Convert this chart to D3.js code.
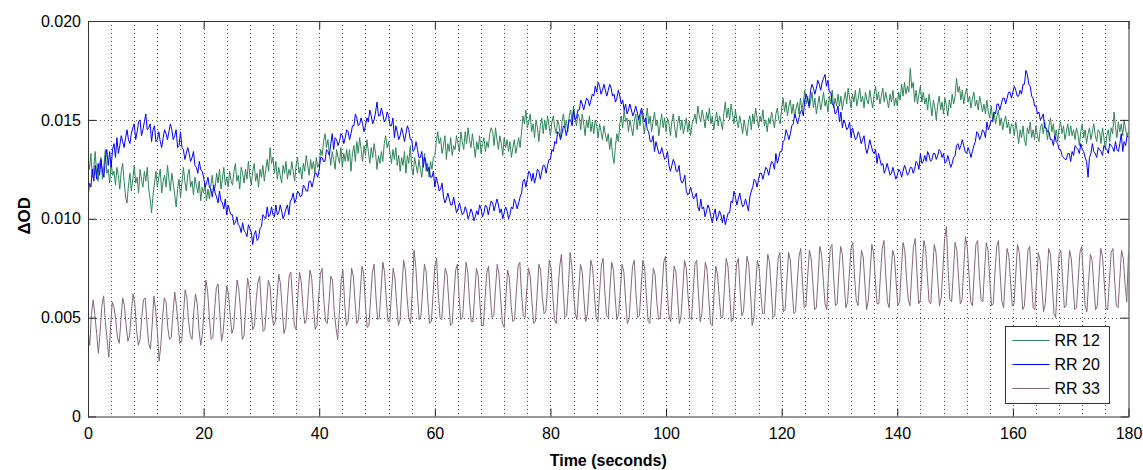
<!DOCTYPE html>
<html>
<head>
<meta charset="utf-8">
<script src="https://cdn.jsdelivr.net/npm/d3@7"></script>
<style>
  body { margin: 0; background: #fff; }
  svg text { font-family: "Liberation Sans", Arial, Helvetica, sans-serif; fill: #000; }
</style>
</head>
<body>
<svg id="chart" width="1143" height="470"></svg>
<script>
// Values, in units of 0.001 ΔOD, one sample every `step` seconds
const seriesNames = ["RR 12", "RR 20", "RR 33"];

const stepRR12 = 0.25;
const rr12 = [
  13.0,12.5,13.3,12.1,12.6,13.4,12.2,11.9,12.8,13.1,12.0,12.7,13.5,12.3,12.5,11.8,12.9,12.2,12.4,11.7,
  12.6,12.2,11.5,12.4,12.8,11.9,11.1,10.8,11.7,12.3,11.4,12.0,12.7,11.8,12.1,11.3,12.5,12.0,11.6,12.4,
  11.9,12.6,11.5,11.0,10.3,11.2,11.8,12.4,11.6,12.1,12.5,11.3,11.9,12.2,11.6,12.7,12.0,11.4,12.3,11.8,
  11.2,10.6,11.5,12.0,11.1,11.8,12.6,11.9,11.4,12.2,12.5,11.6,11.9,11.2,12.1,11.7,11.3,11.9,10.9,11.6,
  11.3,11.8,10.9,11.5,11.0,11.7,12.2,11.4,11.6,12.3,11.8,12.5,11.5,12.0,12.6,11.7,12.1,11.6,12.4,11.9,
  11.7,12.4,12.8,11.9,12.2,11.5,12.6,12.3,11.8,12.5,12.0,12.9,12.2,11.7,12.4,12.8,11.9,12.3,11.6,12.5,
  12.1,12.7,11.9,12.5,13.0,12.4,13.6,12.8,13.1,12.3,12.9,12.0,12.6,12.2,11.8,12.7,12.3,12.9,12.0,12.5,
  12.2,12.9,12.4,11.9,12.7,13.1,12.3,12.6,12.0,12.8,12.4,13.2,12.7,12.2,13.0,12.5,12.9,12.3,13.1,12.6,
  12.8,13.5,13.2,13.9,14.3,13.6,14.0,13.3,12.7,13.4,13.0,12.5,13.5,13.1,12.8,13.6,12.6,13.3,12.9,13.5,
  12.9,13.5,12.4,13.3,13.7,12.9,13.9,13.3,14.1,13.5,12.9,13.7,13.2,14.0,13.4,12.8,13.6,13.1,13.8,13.3,
  12.5,13.2,12.8,13.4,12.9,13.8,14.2,13.6,13.9,13.3,12.8,13.5,13.0,13.6,12.7,13.2,12.4,13.1,12.7,13.4,
  12.3,13.2,12.8,13.7,12.6,12.2,13.1,12.7,12.3,13.0,12.5,12.1,12.9,13.3,12.4,12.8,12.1,12.9,12.5,13.1,
  13.2,13.9,14.4,13.8,14.1,13.3,13.7,14.2,13.0,13.8,13.4,14.1,13.2,13.7,13.5,14.2,13.8,13.4,14.4,13.9,
  13.5,14.4,13.8,14.6,14.0,13.6,14.3,13.7,13.1,13.9,13.5,14.2,13.3,13.8,14.1,13.4,13.9,13.6,14.3,14.6,
  14.4,13.7,14.6,14.0,13.5,14.2,13.8,13.2,14.1,13.6,14.0,13.4,13.9,13.1,13.6,14.0,13.3,13.7,14.1,13.6,
  14.4,15.2,14.8,15.5,14.6,14.9,15.3,14.4,14.8,14.1,15.0,14.6,13.9,14.7,15.1,14.3,15.0,14.5,15.2,14.7,
  14.2,14.9,15.2,14.6,14.3,15.0,14.7,14.1,14.9,15.3,14.6,15.0,14.4,15.2,15.5,14.9,15.7,15.1,14.7,15.3,
  15.1,14.5,15.3,14.8,14.2,15.0,14.6,15.2,14.4,14.9,14.3,15.0,14.7,14.1,14.8,14.4,14.0,14.7,14.3,13.9,
  14.3,13.5,14.1,13.2,12.8,13.7,14.3,13.9,14.8,15.2,14.6,15.5,14.9,15.1,14.4,15.0,14.6,14.2,14.9,15.3,
  14.5,15.2,14.7,15.5,14.9,14.3,15.0,15.6,14.8,15.2,14.4,14.9,15.4,14.7,15.0,14.2,14.8,15.3,14.6,15.1,
  14.4,15.1,14.8,14.2,14.9,15.3,14.6,14.1,14.8,15.2,14.5,15.0,14.3,14.7,15.1,14.4,14.9,14.2,14.8,15.0,
  15.3,14.8,15.7,15.2,14.9,15.5,15.1,14.6,15.4,15.0,15.6,14.8,15.2,14.5,15.0,15.4,14.7,15.2,14.9,14.5,
  15.3,15.9,15.1,15.6,15.0,15.8,15.3,14.8,15.5,15.0,14.6,15.2,14.8,14.3,15.0,14.6,14.2,14.9,15.2,14.5,
  15.3,14.8,15.6,15.1,14.6,15.2,14.9,15.5,14.7,15.0,14.4,15.1,14.8,15.4,15.0,14.6,15.3,15.6,15.0,14.8,
  15.6,16.1,15.4,15.9,15.2,15.7,16.0,15.3,15.8,15.1,15.6,15.9,15.3,16.1,15.5,15.9,16.5,15.8,16.2,15.6,
  15.9,16.4,15.6,16.1,15.3,15.8,16.2,15.5,15.9,16.4,15.7,16.0,15.4,16.2,15.8,16.5,15.6,16.1,15.7,16.3,
  15.7,16.2,15.5,16.0,16.4,15.8,16.6,16.1,15.6,16.3,15.9,16.5,15.7,16.1,16.6,15.9,16.2,15.6,16.4,16.0,
  15.8,16.5,16.0,15.6,16.3,16.7,16.0,16.4,15.8,16.2,16.6,15.9,16.4,16.0,15.6,16.3,15.9,16.5,15.7,16.1,
  15.7,16.4,16.0,16.8,16.2,16.9,16.3,16.7,16.4,17.6,16.6,16.9,15.9,16.5,15.8,16.3,16.7,15.9,16.4,15.8,
  16.1,15.5,16.3,15.8,15.2,16.0,15.6,15.0,15.8,16.2,15.5,15.9,15.3,16.1,15.7,15.2,16.0,15.6,16.3,15.8,
  16.2,17.1,16.4,16.7,16.0,16.5,15.8,16.3,16.6,15.9,16.2,15.6,16.1,16.4,15.7,16.0,15.5,16.2,15.8,15.4,
  15.8,15.3,16.0,15.4,15.1,15.7,15.0,15.4,14.8,15.2,15.5,14.7,15.1,14.5,14.9,15.2,14.6,14.9,14.3,14.8,
  14.7,14.2,14.9,14.4,13.8,14.5,14.1,14.7,14.0,13.7,14.6,14.3,14.9,14.1,14.5,14.0,14.7,14.2,13.9,14.6,
  14.8,14.3,14.9,14.5,14.0,14.7,15.1,14.4,14.8,14.1,14.5,13.9,14.6,14.9,14.3,14.7,14.0,14.4,14.8,14.2,
  14.7,14.2,14.5,14.0,14.6,14.3,13.7,14.4,14.8,14.1,14.5,13.8,14.3,14.6,14.0,14.4,14.8,14.2,13.9,14.5,
  14.4,13.8,14.6,14.1,13.5,14.2,14.5,13.9,14.6,14.3,15.4,14.6,14.1,14.9,14.4,14.8,14.2,15.0,14.5,14.2,
  14.4
];

const stepRR20 = 0.25;
const rr20 = [
  11.0,11.8,11.6,12.5,11.9,12.7,12.0,12.8,12.2,13.0,12.4,12.1,13.0,13.5,12.7,13.4,12.6,13.5,13.8,13.1,
  14.1,13.3,13.7,14.2,13.9,13.6,14.1,14.5,14.0,13.8,14.3,14.6,14.8,14.0,14.4,14.9,15.0,14.2,14.5,14.9,
  15.3,14.5,14.6,14.8,13.9,14.5,14.7,13.9,14.0,14.4,13.9,13.6,14.1,14.5,14.3,14.0,14.4,14.8,14.5,14.0,
  14.2,14.5,13.6,13.7,14.4,13.6,13.5,13.0,13.3,13.6,13.3,12.9,13.1,13.4,12.7,12.6,12.3,12.9,12.5,12.4,
  12.1,11.6,11.8,12.1,11.6,11.5,11.1,11.7,11.3,11.1,10.8,11.4,10.9,10.8,10.5,11.0,10.2,10.7,10.4,10.2,
  10.2,9.7,9.8,10.1,9.7,9.6,9.3,9.8,9.4,9.3,9.1,9.7,9.5,9.3,8.7,9.2,9.4,8.9,9.0,9.5,
  9.6,10.2,10.1,10.0,10.6,10.1,10.2,10.6,10.2,10.1,10.7,10.2,10.3,10.7,10.4,10.0,10.2,10.5,10.7,10.2,
  10.9,11.0,11.3,10.8,11.0,11.4,11.3,11.1,11.2,11.7,11.6,11.4,11.4,11.9,11.9,11.6,11.9,12.3,12.3,12.1,
  12.5,13.1,13.1,12.9,12.9,13.5,13.4,13.2,13.8,14.3,13.5,14.1,14.0,13.7,13.9,14.3,14.2,13.8,14.1,14.5,
  14.4,14.0,14.3,14.7,14.7,15.3,15.1,14.7,14.8,15.1,14.8,14.4,14.7,15.1,14.9,15.5,15.2,14.8,15.0,15.4,
  15.9,15.2,15.2,15.6,15.3,14.9,15.0,15.4,15.2,14.7,14.7,15.1,14.1,14.7,14.4,14.0,14.2,14.6,14.3,13.9,
  14.3,14.7,14.5,14.0,14.0,13.4,13.5,13.9,13.5,13.1,13.1,13.4,12.6,13.1,12.8,12.4,12.6,12.1,12.1,12.4,
  11.6,12.1,11.8,11.4,11.5,11.8,11.1,10.8,11.0,11.3,11.0,10.7,10.7,11.1,10.7,10.3,10.5,10.8,10.5,10.2,
  10.3,10.6,10.4,10.0,10.2,10.5,10.3,9.9,10.1,10.4,10.2,10.7,10.5,10.1,10.3,10.7,10.6,10.2,10.6,10.9,
  10.8,10.4,10.7,11.0,10.7,10.3,10.5,10.0,10.3,10.6,10.4,10.0,10.2,10.6,10.5,11.0,10.8,10.5,10.8,11.1,
  11.3,11.9,12.0,11.6,12.0,12.4,12.3,11.9,12.3,11.8,12.1,12.5,12.4,12.0,12.4,12.7,12.7,12.3,12.7,13.0,
  13.0,13.5,13.4,13.9,13.8,14.4,14.3,14.0,14.3,14.7,14.6,14.2,14.6,15.0,15.0,14.7,15.5,15.0,15.1,15.5,
  15.5,16.0,15.8,15.5,15.8,16.1,16.0,15.7,16.0,16.3,16.2,16.7,16.4,16.9,16.7,16.3,16.5,16.8,16.5,16.2,
  16.5,16.8,16.6,16.2,16.3,15.9,16.1,16.5,16.2,15.8,16.0,15.5,15.8,15.3,15.5,15.8,15.5,15.2,15.4,15.7,
  15.4,15.0,15.3,15.6,15.3,14.9,15.1,14.5,14.4,13.9,13.9,14.2,13.4,13.9,13.6,13.3,13.3,13.6,13.3,13.0,
  13.1,13.4,12.7,12.4,12.7,13.0,12.8,12.4,12.4,12.7,12.0,11.8,11.9,12.2,11.4,11.2,11.3,11.6,11.3,11.0,
  11.1,11.3,10.6,10.4,11.0,10.5,10.6,10.1,10.4,10.7,10.5,10.1,9.8,10.2,10.5,9.9,10.1,10.4,10.2,9.8,
  10.2,9.7,10.0,10.3,10.3,10.9,10.8,11.4,11.1,10.7,11.0,11.3,10.9,10.6,10.7,11.0,10.7,10.4,11.1,11.4,
  11.6,12.0,11.9,11.6,12.0,12.3,12.3,12.0,12.3,12.6,12.5,12.2,12.6,12.9,12.8,12.5,13.3,12.8,13.1,13.4,
  13.4,13.9,14.0,14.5,14.3,14.0,14.3,14.7,14.8,15.3,15.1,14.8,15.1,15.4,15.5,15.2,16.0,16.3,16.0,15.7,
  16.5,16.8,16.6,16.3,16.6,17.0,16.8,16.5,16.9,17.1,17.3,16.7,17.0,16.4,16.4,15.8,15.7,15.3,15.4,15.7,
  14.9,15.4,14.6,15.0,14.8,14.5,14.6,14.9,14.1,14.6,14.3,14.0,14.1,14.4,14.2,13.8,14.0,14.2,13.6,13.3,
  13.6,14.0,13.7,13.4,13.3,13.5,12.8,13.3,13.0,12.7,12.8,12.3,12.5,12.8,12.5,12.2,12.3,12.6,12.3,12.0,
  12.2,12.5,12.4,12.1,12.4,12.7,12.5,12.2,12.3,12.6,12.6,12.3,12.5,12.9,12.8,12.5,13.3,12.8,12.9,13.2,
  12.9,13.4,13.2,12.9,13.0,13.3,13.3,13.0,13.2,13.5,13.4,13.1,13.3,12.8,12.9,13.2,12.9,12.6,12.8,13.1,
  13.2,13.7,13.8,13.5,13.7,14.0,13.7,13.4,13.3,13.6,13.4,13.1,13.4,13.7,13.9,14.4,14.3,14.0,14.2,14.5,
  14.4,14.1,14.9,14.5,14.7,15.0,14.9,15.4,15.3,15.8,15.8,15.5,15.8,16.1,16.1,15.8,16.1,16.4,16.4,16.1,
  16.4,16.7,16.5,16.2,16.2,16.5,16.3,16.8,16.8,17.5,17.3,16.8,16.7,16.2,16.1,15.7,15.7,15.3,15.4,15.0,
  15.1,15.3,14.6,14.6,14.4,14.4,14.0,14.0,13.7,14.2,13.9,13.8,13.5,13.5,13.2,13.1,13.0,13.0,13.3,13.3,
  12.9,13.4,13.2,13.7,13.6,13.5,13.3,13.8,13.5,13.4,13.1,12.9,12.1,13.1,13.3,13.8,13.4,13.3,13.1,13.6,
  13.5,13.4,13.2,13.7,13.6,13.5,13.3,13.8,13.7,13.6,13.4,13.9,13.5,13.4,13.8,14.3,13.4,13.9,13.7,14.2,
  14.1
];

const stepRR33 = 0.3;
const rr33 = [
  4.4,3.6,5.2,5.9,5.1,4.2, 3.2,4.3,5.6,6.1,4.8,3.9, 3.0,4.5,5.8,5.5,4.9,4.0,
  3.7,4.9,6.0,5.6,4.6,3.8, 4.1,5.3,6.2,5.7,4.4,3.6, 3.9,5.0,5.9,6.0,4.7,3.7,
  3.4,4.6,6.1,5.4,4.3,2.8, 3.6,5.0,6.0,5.8,4.5,3.9, 4.0,5.2,6.3,5.6,4.6,3.7,
  3.8,5.1,6.4,6.0,4.8,4.1, 3.9,5.3,6.2,5.7,4.4,3.6, 4.2,5.6,6.9,6.3,5.0,3.9,
  4.0,5.4,6.5,6.7,5.2,3.8, 4.3,5.5,6.6,6.2,5.1,4.2, 4.5,5.8,6.9,6.4,5.3,3.9,
  4.1,5.6,7.0,6.5,5.4,4.4, 4.6,5.9,6.8,7.1,5.5,4.3, 4.4,5.7,6.9,6.6,5.2,4.6,
  4.8,6.0,7.2,6.7,5.4,4.2, 4.5,5.9,7.1,7.3,5.8,4.6, 4.4,6.1,7.3,6.8,5.5,4.7,
  4.9,6.2,7.4,7.0,5.6,4.4, 4.6,6.0,7.2,7.5,5.9,4.8, 4.7,5.8,7.1,6.9,5.3,4.5,
  3.9,5.4,6.9,7.4,5.7,4.6, 4.8,6.1,7.5,7.1,5.8,4.7, 4.9,6.3,7.6,7.2,5.6,4.5,
  4.6,6.0,7.3,7.7,6.1,4.9, 5.0,6.4,7.8,7.3,5.9,4.8, 4.8,6.2,7.5,7.0,5.7,4.6,
  4.9,6.5,7.9,7.4,6.0,5.0, 4.7,6.3,8.4,7.6,6.1,4.9, 5.1,6.4,7.7,7.3,5.8,4.7,
  4.8,6.2,7.6,8.0,6.2,5.0, 4.9,6.3,7.5,7.2,5.9,4.6, 4.7,6.1,7.4,7.7,6.0,4.9,
  5.0,6.4,7.8,7.3,5.8,4.8, 4.8,6.2,7.5,7.1,5.7,4.6, 4.6,6.0,7.3,7.6,6.1,5.0,
  5.1,6.5,7.7,7.2,5.9,4.7, 4.5,6.1,7.4,7.0,5.6,4.8, 4.9,6.3,7.6,7.8,6.2,5.1,
  5.0,6.4,7.5,7.1,5.8,4.7, 4.8,6.2,7.7,7.4,6.0,5.2, 5.3,6.6,7.9,7.5,6.1,4.9,
  4.7,6.3,7.6,8.2,6.4,5.0, 5.1,6.5,8.3,7.6,6.2,5.2, 4.9,6.4,7.7,7.3,5.9,4.8,
  5.2,6.6,7.9,7.5,6.2,5.0, 4.8,6.3,7.6,8.0,6.3,5.1, 5.0,6.5,7.8,7.4,6.0,4.9,
  5.2,6.4,7.7,7.3,5.9,4.7, 4.9,6.3,7.6,7.9,6.2,5.0, 5.1,6.6,7.9,7.5,6.1,4.8,
  4.7,6.2,7.5,7.2,5.8,4.9, 5.0,6.4,7.8,8.1,6.3,5.1, 4.8,6.3,7.6,7.3,6.0,4.7,
  5.1,6.5,7.9,7.5,6.1,5.0, 4.9,6.4,7.7,7.9,6.2,4.8, 5.2,6.6,7.8,7.4,5.9,4.7,
  4.6,6.2,7.6,7.2,6.0,5.0, 5.0,6.5,8.0,7.6,6.2,4.8, 4.9,6.4,7.7,8.0,6.4,5.1,
  5.3,6.7,8.1,7.7,6.3,4.6, 5.0,6.6,7.9,7.5,6.2,5.2, 5.2,6.8,8.2,7.8,6.4,5.0,
  5.1,6.7,8.0,8.3,6.6,5.3, 5.4,6.9,8.3,7.9,6.5,5.2, 5.3,6.8,8.1,8.5,6.8,5.5,
  5.6,7.1,8.4,8.0,6.7,5.4, 5.5,7.0,8.6,8.2,6.9,5.7, 5.4,7.2,8.5,8.7,7.0,5.6,
  5.7,7.3,8.6,8.2,6.8,5.5, 5.8,7.2,8.5,8.8,7.1,5.9, 5.6,7.0,8.4,8.1,6.7,5.4,
  5.9,7.3,8.7,8.3,6.9,5.7, 5.7,7.2,8.5,8.9,7.2,5.8, 5.5,7.1,8.4,8.1,6.8,5.6,
  5.8,7.4,8.8,8.4,7.0,5.9, 5.6,7.2,8.6,9.0,7.3,5.7, 5.9,7.5,8.9,8.5,7.1,5.8,
  5.7,7.3,8.7,8.3,6.9,5.6, 6.0,7.5,9.0,9.6,7.4,5.9, 5.8,7.3,8.8,8.4,7.0,5.7,
  5.9,7.5,9.1,8.6,7.2,5.8, 5.6,7.2,8.7,8.9,7.1,5.9, 5.8,7.4,8.8,8.4,6.9,5.6,
  5.7,7.3,8.6,8.9,7.2,5.8, 5.5,7.1,8.5,8.1,6.8,5.6, 5.7,7.2,8.7,8.3,6.9,5.4,
  5.6,7.0,8.4,8.6,7.0,5.5, 5.4,6.9,8.3,7.9,6.6,5.3, 5.7,7.1,8.5,8.2,6.8,5.2,
  5.0,6.8,8.2,8.4,6.9,5.5, 5.6,7.0,8.4,8.0,6.7,5.4, 5.5,6.9,8.3,8.6,7.0,5.6,
  5.3,6.8,8.2,7.9,6.6,5.4, 5.6,7.1,8.5,8.1,6.8,5.5, 5.4,6.9,8.3,8.5,6.9,5.6,
  5.5,7.0,8.4,8.0,6.7,5.8,
  8.3
];

const xTicks = [0, 20, 40, 60, 80, 100, 120, 140, 160, 180];
const yTicks = [0, 0.005, 0.010, 0.015, 0.020];
const yTickLabels = ["0", "0.005", "0.010", "0.015", "0.020"];
const xGridLines = [4, 8, 12, 16, 20, 24, 28, 32, 36, 40, 44, 48, 52, 56, 60, 64, 68, 72, 76, 80, 84, 88,
  92, 96, 100, 104, 108, 112, 116, 120, 124, 128, 132, 136, 140, 144, 148, 152, 156, 160, 164, 168, 172, 176];
const yGridLines = [0.005, 0.010, 0.015];

const colors = ["#2f8458", "#0000ff", "#86657f"];

const width = 1143, height = 470;
const margin = {top: 21, right: 14.5, bottom: 53.5, left: 88};
const innerW = width - margin.left - margin.right;
const innerH = height - margin.top - margin.bottom;

const svg = d3.select("#chart");
const g = svg.append("g").attr("transform", `translate(${margin.left},${margin.top})`);

const x = d3.scaleLinear().domain([0, 180]).range([0, innerW]);
const y = d3.scaleLinear().domain([0, 0.020]).range([innerH, 0]);

// dotted grid
g.append("g").selectAll("line")
  .data(xGridLines)
  .enter().append("line")
    .attr("x1", d => Math.round(x(d)) + 0.5)
    .attr("x2", d => Math.round(x(d)) + 0.5)
    .attr("y1", 0)
    .attr("y2", innerH)
    .attr("stroke", "#555")
    .attr("stroke-width", 1)
    .attr("stroke-dasharray", "1,3");

g.append("g").selectAll("line")
  .data(yGridLines)
  .enter().append("line")
    .attr("x1", 0)
    .attr("x2", innerW)
    .attr("y1", d => Math.round(y(d)) + 0.5)
    .attr("y2", d => Math.round(y(d)) + 0.5)
    .attr("stroke", "#555")
    .attr("stroke-width", 1)
    .attr("stroke-dasharray", "1,3");

// lines
g.append("clipPath").attr("id", "plotClip")
  .append("rect").attr("width", innerW).attr("height", innerH);

const series = [
  {name: seriesNames[0], step: stepRR12, values: rr12, color: colors[0]},
  {name: seriesNames[1], step: stepRR20, values: rr20, color: colors[1]},
  {name: seriesNames[2], step: stepRR33, values: rr33, color: colors[2]}
];

const linesG = g.append("g").attr("clip-path", "url(#plotClip)");
series.forEach(s => {
  const line = d3.line()
    .x((d, i) => x(i * s.step))
    .y(d => y(d / 1000));
  linesG.append("path")
    .datum(s.values)
    .attr("fill", "none")
    .attr("stroke", s.color)
    .attr("stroke-width", 1)
    .attr("stroke-linejoin", "round")
    .attr("d", line);
});

// axes (ticks inside, MATLAB style)
const xAxis = g.append("g")
  .attr("transform", `translate(0,${innerH})`)
  .call(d3.axisBottom(x).tickValues(xTicks).tickSize(-8).tickPadding(11).tickFormat(d3.format("d")));
xAxis.select(".domain").remove();
xAxis.selectAll("text").style("font-size", "16px");
xAxis.selectAll("line").attr("stroke", "#222");

const xAxisTop = g.append("g")
  .call(d3.axisTop(x).tickValues(xTicks).tickSize(-8).tickFormat(""));
xAxisTop.select(".domain").remove();
xAxisTop.selectAll("line").attr("stroke", "#222");

const yAxis = g.append("g")
  .call(d3.axisLeft(y).tickValues(yTicks).tickSize(-8).tickPadding(7)
    .tickFormat((d, i) => yTickLabels[i]));
yAxis.select(".domain").remove();
yAxis.selectAll("text").style("font-size", "16px");
yAxis.selectAll("line").attr("stroke", "#222");

const yAxisRight = g.append("g")
  .attr("transform", `translate(${innerW},0)`)
  .call(d3.axisRight(y).tickValues(yTicks).tickSize(-8).tickFormat(""));
yAxisRight.select(".domain").remove();
yAxisRight.selectAll("line").attr("stroke", "#222");

// frame
g.append("rect")
  .attr("x", 0.5).attr("y", 0.5)
  .attr("width", innerW).attr("height", innerH)
  .attr("fill", "none")
  .attr("stroke", "#333")
  .attr("stroke-width", 1);

// axis titles
svg.append("text")
  .attr("x", margin.left + innerW / 2)
  .attr("y", 466)
  .attr("text-anchor", "middle")
  .style("font-size", "16px")
  .style("font-weight", "bold")
  .text("Time (seconds)");

svg.append("text")
  .attr("transform", `translate(30,${margin.top + innerH / 2 - 3}) rotate(-90)`)
  .attr("text-anchor", "middle")
  .style("font-size", "17px")
  .style("font-weight", "bold")
  .text("ΔOD");

// legend
const legend = svg.append("g").attr("transform", "translate(1005.5,326.5)");
legend.append("rect")
  .attr("width", 104)
  .attr("height", 77)
  .attr("fill", "#fff")
  .attr("stroke", "#333");

const legendRows = legend.selectAll("g.row")
  .data(series)
  .enter().append("g")
    .attr("class", "row")
    .attr("transform", (d, i) => `translate(0,${14 + i * 24})`);

legendRows.append("line")
  .attr("x1", 7).attr("x2", 44)
  .attr("stroke", d => d.color)
  .attr("stroke-width", 1);

legendRows.append("text")
  .attr("x", 49)
  .attr("dy", "0.35em")
  .style("font-size", "16px")
  .text(d => d.name);
</script>
</body>
</html>
